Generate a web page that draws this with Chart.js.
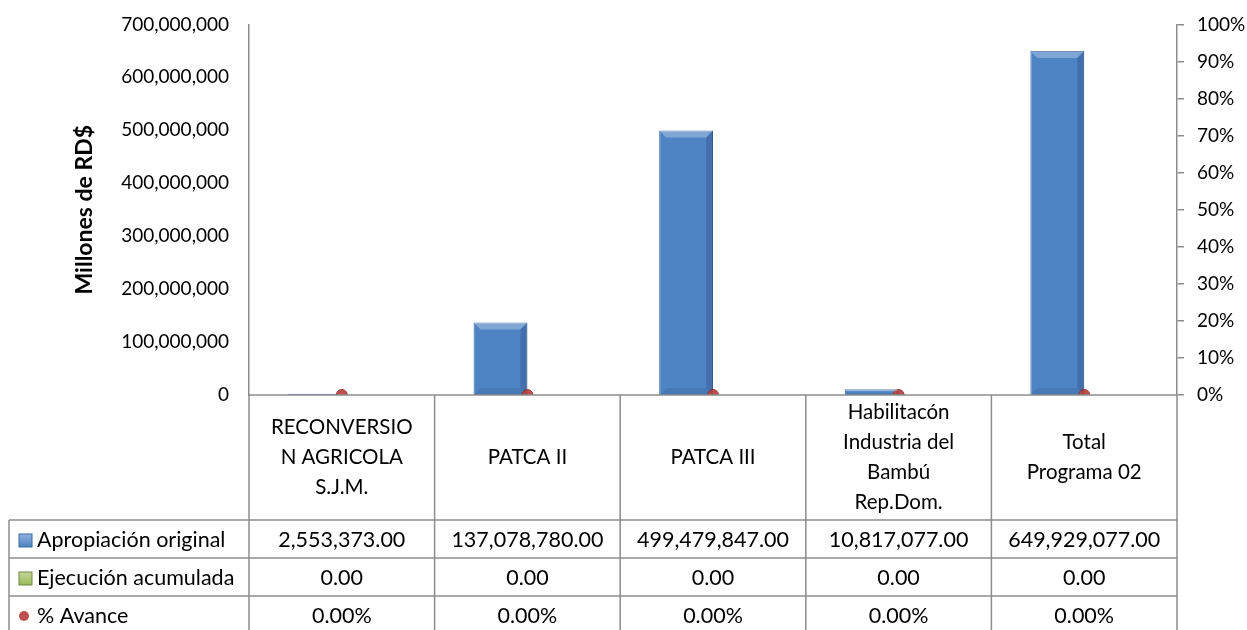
<!DOCTYPE html>
<html>
<head>
<meta charset="utf-8">
<script src="https://cdn.jsdelivr.net/npm/chart.js@4"></script>
<style>
  body { margin: 0; background: #fff; }
  #wrap { width: 1247px; height: 630px; position: relative; }
</style>
</head>
<body>
<div id="wrap"><canvas id="myChart1"></canvas></div>
<script>
//------------------ data ------------------//
// category labels (already wrapped the way the table header shows them)
const CATEGORIES = [
    ['RECONVERSIO', 'N AGRICOLA', 'S.J.M.'],
    ['PATCA II'],
    ['PATCA III'],
    ['Habilitacón', 'Industria del', 'Bambú', 'Rep.Dom.'],
    ['Total', 'Programa 02']
]
const APROPIACION = [2553373, 137078780, 499479847, 10817077, 649929077]   // Apropiación original
const EJECUCION = [0, 0, 0, 0, 0]                                           // Ejecución acumulada
const AVANCE = [0, 0, 0, 0, 0]                                              // % Avance (0..1)
const SERIES_NAMES = ['Apropiación original', 'Ejecución acumulada', '% Avance']
const Y_TITLE = 'Millones de RD$'
//-----------------------------------------//

const FONT = 'Lato, "Open Sans", sans-serif'
const LINE_COLOR = '#8c8c8c'
const BLUE = '#4f81bd'
const GREEN = '#9bbb59'
const RED = '#c0504d'

const HEADER_H = 125    // height of the category header under the axis
const ROW_H = 38        // height of each data row
const TABLE_LEFT = 9    // left edge of the row-name column

function fmtMoney(v){
    return v.toLocaleString('en-US', {minimumFractionDigits: 2, maximumFractionDigits: 2})
}
function fmtPct(v){
    return (v * 100).toFixed(2) + '%'
}

/*--------------------------------------------------------------------
bevel on the blue bars (uses the bar elements the library placed)
--------------------------------------------------------------------*/
const bevelPlugin = {
    id: 'bevel',
    afterDatasetsDraw(chart){
        const ctx = chart.ctx
        const meta = chart.getDatasetMeta(0)
        ctx.save()
        meta.data.forEach(function(bar){
            const left = bar.x - bar.width / 2
            const right = bar.x + bar.width / 2
            const top = bar.y
            const bottom = bar.base
            const h = bottom - top
            const b = Math.min(7, h / 3)
            if (b < 1) return
            // top highlight
            ctx.fillStyle = 'rgba(255,255,255,0.28)'
            ctx.beginPath()
            ctx.moveTo(left, top); ctx.lineTo(right, top)
            ctx.lineTo(right - b, top + b); ctx.lineTo(left + b, top + b)
            ctx.closePath(); ctx.fill()
            // right shade
            ctx.fillStyle = 'rgba(0,0,40,0.15)'
            ctx.beginPath()
            ctx.moveTo(right, top); ctx.lineTo(right, bottom)
            ctx.lineTo(right - b, bottom - b); ctx.lineTo(right - b, top + b)
            ctx.closePath(); ctx.fill()
            // bottom shade
            ctx.fillStyle = 'rgba(0,0,40,0.08)'
            ctx.beginPath()
            ctx.moveTo(left, bottom); ctx.lineTo(right, bottom)
            ctx.lineTo(right - b, bottom - b); ctx.lineTo(left + b, bottom - b)
            ctx.closePath(); ctx.fill()
        })
        ctx.restore()
    }
}

/*--------------------------------------------------------------------
data table under the chart (Excel style)
--------------------------------------------------------------------*/
const tablePlugin = {
    id: 'dataTable',
    afterDraw(chart){
        const ctx = chart.ctx
        const area = chart.chartArea
        const xs = chart.scales.x
        const n = CATEGORIES.length
        const colW = (area.right - area.left) / n
        const top = area.bottom
        const rowTop = top + HEADER_H
        const bottom = rowTop + ROW_H * 3

        ctx.save()
        ctx.strokeStyle = LINE_COLOR
        ctx.lineWidth = 1.5

        // axis line / header top
        ctx.beginPath()
        ctx.moveTo(area.left, top); ctx.lineTo(area.right, top)
        ctx.stroke()

        // column dividers
        for (let i = 0; i <= n; i++){
            const x = xs.getPixelForValue(i) - colW / 2
            ctx.beginPath()
            ctx.moveTo(x, top); ctx.lineTo(x, bottom)
            ctx.stroke()
        }
        // row lines
        for (let r = 0; r <= 3; r++){
            const y = rowTop + ROW_H * r
            ctx.beginPath()
            ctx.moveTo(TABLE_LEFT, y); ctx.lineTo(area.right, y)
            ctx.stroke()
        }
        ctx.beginPath()
        ctx.moveTo(TABLE_LEFT, rowTop); ctx.lineTo(TABLE_LEFT, bottom)
        ctx.stroke()

        // header text
        ctx.fillStyle = '#000'
        ctx.font = '20.5px ' + FONT
        ctx.textAlign = 'center'
        ctx.textBaseline = 'middle'
        const lineH = 30
        for (let i = 0; i < n; i++){
            const cx = xs.getPixelForValue(i)
            const lines = CATEGORIES[i]
            const y0 = top + HEADER_H / 2 - (lines.length - 1) * lineH / 2
            lines.forEach(function(t, k){ ctx.fillText(t, cx, y0 + k * lineH) })
        }

        // rows
        ctx.font = '21.5px ' + FONT
        const rows = [APROPIACION.map(fmtMoney), EJECUCION.map(fmtMoney), AVANCE.map(fmtPct)]
        for (let r = 0; r < 3; r++){
            const cy = rowTop + ROW_H * r + ROW_H / 2 + 1
            ctx.textAlign = 'center'
            for (let i = 0; i < n; i++){
                ctx.fillText(rows[r][i], xs.getPixelForValue(i), cy)
            }
            // legend key
            if (r < 2){
                const c = r == 0 ? BLUE : GREEN
                const g = ctx.createLinearGradient(0, cy - 6, 0, cy + 7)
                g.addColorStop(0, r == 0 ? '#8db3e2' : '#c3d69b')
                g.addColorStop(1, c)
                ctx.fillStyle = g
                ctx.fillRect(19, cy - 6, 13, 13)
                ctx.strokeStyle = r == 0 ? '#3a6aa5' : '#71893f'
                ctx.lineWidth = 1
                ctx.strokeRect(19, cy - 6, 13, 13)
            }
            else{
                ctx.fillStyle = RED
                ctx.beginPath()
                ctx.arc(24, cy, 5, 0, Math.PI * 2)
                ctx.fill()
            }
            ctx.fillStyle = '#000'
            ctx.textAlign = 'left'
            ctx.fillText(SERIES_NAMES[r], 37, cy)
        }
        ctx.restore()
    }
}

/*--------------------------------------------------------------------
chart
--------------------------------------------------------------------*/
const ctx = document.getElementById('myChart1')
window.myChart = new Chart(ctx, {
    type: 'bar',
    data: {
        labels: CATEGORIES.map(function(l){ return l.join(' ') }),
        datasets: [
            {
                label: SERIES_NAMES[0],
                data: APROPIACION,
                backgroundColor: '#4f84c4',
                borderColor: '#3a6aa5',
                borderWidth: 1,
                yAxisID: 'y',
                order: 2
            },
            {
                label: SERIES_NAMES[1],
                data: EJECUCION,
                backgroundColor: GREEN,
                borderWidth: 0,
                yAxisID: 'y',
                order: 2
            },
            {
                type: 'line',
                label: SERIES_NAMES[2],
                data: AVANCE,
                showLine: false,
                pointRadius: 5.5,
                pointBackgroundColor: RED,
                pointBorderColor: '#9c3a37',
                pointBorderWidth: 1,
                yAxisID: 'y1',
                order: 0
            }
        ]
    },
    options: {
        responsive: true,
        maintainAspectRatio: false,
        animation: false,
        // note: tick padding also adds to the top gap, so keep it small
        layout: { padding: { left: 67, right: 0, top: 24, bottom: 235 } },
        plugins: {
            legend: { display: false },
            tooltip: { enabled: false }
        },
        datasets: {
            bar: { categoryPercentage: 0.58, barPercentage: 1 }
        },
        scales: {
            x: {
                display: false,
                offset: true
            },
            y: {
                position: 'left',
                min: 0,
                max: 700000000,
                afterFit: function(s){ s.width = 182 },
                ticks: {
                    stepSize: 100000000,
                    padding: 12,
                    color: '#000',
                    font: { family: FONT, size: 19 },
                    callback: function(v){ return v.toLocaleString('en-US') }
                },
                grid: { display: false },
                border: { display: true, color: LINE_COLOR, width: 1.5 },
                title: {
                    display: true,
                    text: Y_TITLE,
                    color: '#000',
                    font: { family: FONT, size: 23, weight: 'bold' }
                }
            },
            y1: {
                position: 'right',
                min: 0,
                max: 1,
                afterFit: function(s){ s.width = 70 },
                ticks: {
                    stepSize: 0.1,
                    padding: 13,
                    color: '#000',
                    font: { family: FONT, size: 19 },
                    callback: function(v){ return Math.round(v * 100) + '%' }
                },
                grid: { drawOnChartArea: false, tickLength: 7, color: LINE_COLOR, lineWidth: 1.5 },
                border: { display: true, color: LINE_COLOR, width: 1.5 }
            }
        }
    },
    plugins: [bevelPlugin, tablePlugin]
})
</script>
</body>
</html>
